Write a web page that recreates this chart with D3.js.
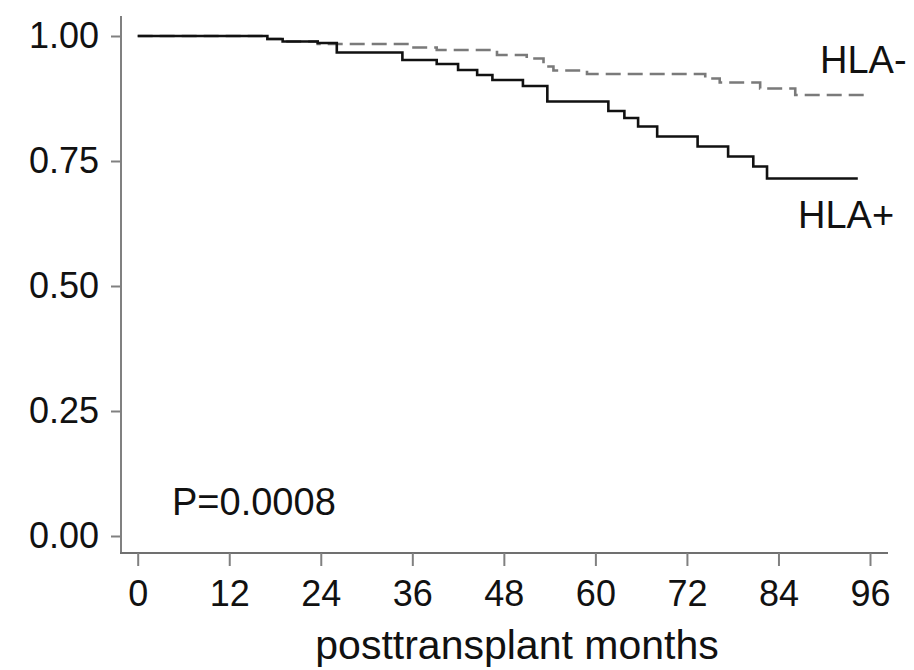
<!DOCTYPE html>
<html>
<head>
<meta charset="utf-8">
<script src="https://cdn.jsdelivr.net/npm/d3@7"></script>
<style>
  html, body { margin: 0; padding: 0; background: #fff; }
  svg { display: block; }
  text { font-family: "Liberation Sans", Arial, Helvetica, sans-serif; fill: #111; }
</style>
</head>
<body>
<svg id="chart" width="914" height="670"></svg>
<script>
// ---- data ----
const xTicks = [0, 12, 24, 36, 48, 60, 72, 84, 96];
const yTicks = [0, 0.25, 0.5, 0.75, 1.0];

// HLA+ (solid): step change points [months]
const hlaPosMonths = [0, 17, 19, 23.6, 26.1, 34.7, 39.2, 42, 44.5, 46.5, 50.5, 53.7, 61.7, 63.8, 65.6, 68.1, 73.4, 77.4, 80.7, 82.5, 94.4];
const hlaPosSurv   = [1.0, 0.994, 0.989, 0.986, 0.967, 0.952, 0.944, 0.932, 0.922, 0.912, 0.900, 0.869, 0.850, 0.836, 0.819, 0.799, 0.779, 0.759, 0.739, 0.715, 0.715];

// HLA- (dashed)
const hlaNegMonths = [0, 17, 19, 23.6, 35.7, 39.2, 47.1, 51.0, 53.2, 54.5, 58.9, 74.4, 76.3, 81.6, 86.2, 95.3];
const hlaNegSurv   = [1.0, 0.994, 0.989, 0.984, 0.977, 0.972, 0.962, 0.955, 0.939, 0.931, 0.924, 0.915, 0.907, 0.895, 0.882, 0.882];

const seriesLabels = ["HLA+", "HLA-"];
const pValueText = "P=0.0008";
const xTitle = "posttransplant months";

// ---- layout ----
const svg = d3.select("#chart");
const axisColor = "#808080";
const x = d3.scaleLinear().domain([0, 96]).range([137.7, 870]);
const y = d3.scaleLinear().domain([0, 1]).range([536, 36]);
const axisLeftX = 121, axisBottomY = 553, axisTopY = 16, axisRightX = 888;

// axis lines
svg.append("line").attr("x1", axisLeftX).attr("x2", axisLeftX)
  .attr("y1", axisTopY).attr("y2", axisBottomY)
  .attr("stroke", axisColor).attr("stroke-width", 2);
svg.append("line").attr("x1", axisLeftX - 1).attr("x2", axisRightX)
  .attr("y1", axisBottomY).attr("y2", axisBottomY)
  .attr("stroke", "#707070").attr("stroke-width", 2);

// y ticks
const yAxis = d3.axisLeft(y).tickValues(yTicks).tickFormat(d3.format(".2f"))
  .tickSize(10).tickPadding(12);
const gy = svg.append("g").attr("transform", `translate(${axisLeftX},0)`).call(yAxis);
gy.select(".domain").remove();
gy.selectAll(".tick line").attr("stroke", axisColor).attr("stroke-width", 2);
gy.selectAll(".tick text").attr("font-size", 36).attr("fill", "#111")
  .attr("font-family", "'Liberation Sans', Arial, sans-serif").attr("dy", "0.33em");

// x ticks
const xAxis = d3.axisBottom(x).tickValues(xTicks).tickFormat(d3.format("d"))
  .tickSize(13).tickPadding(14);
const gx = svg.append("g").attr("transform", `translate(0,${axisBottomY})`).call(xAxis);
gx.select(".domain").remove();
gx.selectAll(".tick line").attr("stroke", axisColor).attr("stroke-width", 2);
gx.selectAll(".tick text").attr("font-size", 36).attr("fill", "#111")
  .attr("font-family", "'Liberation Sans', Arial, sans-serif").attr("dy", "0.71em");

// curves
const line = d3.line().x(d => x(d[0])).y(d => y(d[1])).curve(d3.curveStepAfter);
const posData = hlaPosMonths.map((m, i) => [m, hlaPosSurv[i]]);
const negData = hlaNegMonths.map((m, i) => [m, hlaNegSurv[i]]);

svg.append("path").datum(negData).attr("d", line)
  .attr("fill", "none").attr("stroke", "#7a7a7a").attr("stroke-width", 2.6)
  .attr("stroke-dasharray", "15,7");
svg.append("path").datum(posData).attr("d", line)
  .attr("fill", "none").attr("stroke", "#111").attr("stroke-width", 2.6);

// labels
svg.append("text").attr("x", 820).attr("y", 73).attr("font-size", 38).text(seriesLabels[1]);
svg.append("text").attr("x", 798).attr("y", 228).attr("font-size", 38).text(seriesLabels[0]);
svg.append("text").attr("x", 172).attr("y", 515).attr("font-size", 38).text(pValueText);
svg.append("text").attr("x", 517).attr("y", 659).attr("text-anchor", "middle")
  .attr("font-size", 41).text(xTitle);
</script>
</body>
</html>
